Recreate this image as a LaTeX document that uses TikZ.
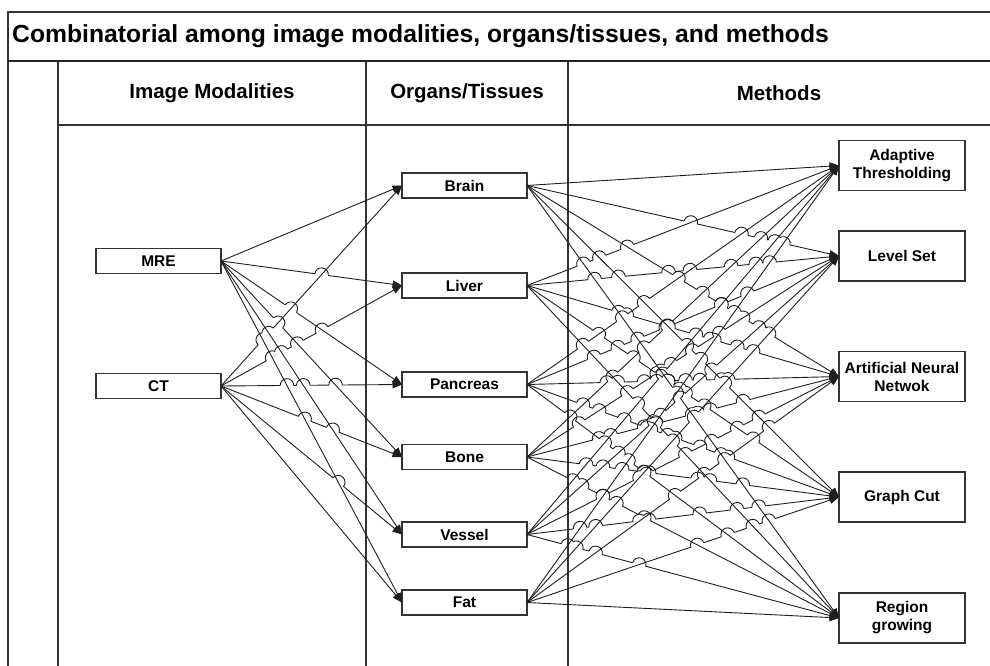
\documentclass[tikz,border=0pt]{standalone}
\usepackage{fontspec}
\setmainfont{Liberation Sans}
\usetikzlibrary{arrows.meta}

% connector data: {ax}{ay}{bx}{by}{source}{target}, coordinates in units of 100pt
\newdimen\cdx
\def\unpackedge#1{\expandafter\expandafter\expandafter\unpackedgeA\csname cedge#1\endcsname}
\def\unpackedgeA#1#2#3#4#5#6{\def\Eax{#1}\def\Eay{#2}\def\Ebx{#3}\def\Eby{#4}\def\Es{#5}\def\Et{#6}}

% line jumps (used inside scopes with the even odd rule)
\def\hopr{6.8}
\def\hopclip#1#2{\clip (-20,20) rectangle (1010,-690) (#1,#2) circle[radius=\hopr];}
\def\hopcut#1#2{\def\tmpx{#1}\ifx\tmpx\curhx\else
  \ifdim\dimexpr#1pt-\curhx pt\relax<14pt \ifdim\dimexpr\curhx pt-#1pt\relax<14pt
    \clip (-20,20) rectangle (1010,-690) (#1,#2) ++(\hth:\hopr)
      arc[start angle=\hth, end angle=\hth+180, radius=\hopr] -- cycle;
  \fi\fi\fi}
\def\hoparc#1#2{\begin{scope}[even odd rule]\def\curhx{#1}\let\hop\hopcut\hoplist
  \draw[conn] (#1,#2) ++(\hth+180:\hopr) arc[start angle=\hth+180, end angle=\hth, radius=\hopr];
  \end{scope}}

\def\edgelist{mre/brain,mre/liver,mre/pancreas,mre/bone,mre/vessel,mre/fat,
ct/brain,ct/liver,ct/pancreas,ct/bone,ct/vessel,ct/fat,
brain/adapt,brain/level,brain/ann,brain/graph,brain/region,
liver/adapt,liver/level,liver/ann,liver/graph,liver/region,
pancreas/adapt,pancreas/level,pancreas/ann,pancreas/graph,pancreas/region,
bone/adapt,bone/level,bone/ann,bone/graph,bone/region,
vessel/adapt,vessel/level,vessel/ann,vessel/graph,vessel/region,
fat/adapt,fat/level,fat/ann,fat/graph,fat/region}

\begin{document}
\begin{tikzpicture}[x=1pt,y=1pt,
  box/.style={draw=black!80, line width=1.1pt, fill=white, minimum width=125pt,
    minimum height=25pt, inner sep=0pt, outer sep=0pt, align=center,
    font=\bfseries\fontsize{15.5}{18}\selectfont},
  mbox/.style={box, minimum width=126pt, minimum height=50pt},
  conn/.style={draw=black!88, line width=0.9pt},
  tip/.style={-{Triangle[length=9.5pt,width=7.5pt]}},
  lane/.style={draw=black!80, line width=1.2pt},
  head/.style={font=\bfseries\fontsize{20.5}{24}\selectfont, inner sep=0pt}]
\useasboundingbox (0,0) rectangle (990,-666);

% swimlane frame
\draw[lane] (990,-12) -- (8,-12) -- (8,-666);
\draw[lane] (58,-61) -- (58,-666);
\draw[lane] (366,-61) -- (366,-666);
\draw[lane] (568,-61) -- (568,-666);
\draw[lane] (58,-125) -- (990,-125);
\draw[black!85, line width=2.5pt] (8,-61) -- (990,-61);

\node[anchor=west, inner sep=0pt, font=\bfseries\fontsize{24.7}{30}\selectfont] (title) at (12,-36.5)
  {Combinatorial among image modalities, organs/tissues, and methods};
\node[head] (hmod) at (212,-93) {Image Modalities};
\node[head] (horg) at (467,-93) {Organs/Tissues};
\node[head] (hmet) at (779,-93) {Methods};

% image modalities
\node[box] (mre) at (158.5,-261) {MRE};
\node[box] (ct)  at (158.5,-386) {CT};
% organs / tissues
\node[box] (brain)    at (464.5,-185.5) {Brain};
\node[box] (liver)    at (464.5,-285.5) {Liver};
\node[box] (pancreas) at (464.5,-384.5) {Pancreas};
\node[box] (bone)     at (464.5,-457)   {Bone};
\node[box] (vessel)   at (464.5,-534.5) {Vessel};
\node[box] (fat)      at (464.5,-602.5) {Fat};
% methods
\node[mbox] (adapt)  at (902,-165.5) {Adaptive\\Thresholding};
\node[mbox] (level)  at (902,-256)   {Level Set};
\node[mbox] (ann)    at (902,-376.5) {Artificial Neural\\Netwok};
\node[mbox] (graph)  at (902,-497)   {Graph Cut};
\node[mbox] (region) at (902,-618)   {Region\\growing};

% store connector end points
\foreach [count=\k] \src/\tgt in \edgelist {
  \pgfextractx{\cdx}{\pgfpointanchor{\src}{east}}\pgfmathsetmacro\sax{\cdx/100}
  \pgfextracty{\cdx}{\pgfpointanchor{\src}{east}}\pgfmathsetmacro\say{\cdx/100}
  \pgfextractx{\cdx}{\pgfpointanchor{\tgt}{west}}\pgfmathsetmacro\sbx{\cdx/100}
  \pgfextracty{\cdx}{\pgfpointanchor{\tgt}{west}}\pgfmathsetmacro\sby{\cdx/100}
  \expandafter\xdef\csname cedge\k\endcsname{{\sax}{\say}{\sbx}{\sby}{\src}{\tgt}}
}

% connectors: the flatter line of a crossing pair jumps over the steeper one
\foreach \ci in {1,...,42} {
  \unpackedge{\ci}
  \let\Iax\Eax \let\Iay\Eay \let\Ibx\Ebx \let\Iby\Eby \let\Is\Es \let\It\Et
  \pgfmathsetmacro\Irx{\Ibx-\Iax}
  \pgfmathsetmacro\Iry{\Iby-\Iay}
  \pgfmathsetmacro\Isl{abs(\Iry/\Irx)}
  \pgfmathsetmacro\hth{atan2(\Iry,\Irx)}
  \global\let\hoplist\empty
  \foreach \cj in {1,...,42} {
    \unpackedge{\cj}
    \ifdim\Eax pt=\Iax pt
      \ifx\Es\Is\else\ifx\Et\It\else
        \pgfmathsetmacro\Jrx{\Ebx-\Eax}
        \pgfmathsetmacro\Jry{\Eby-\Eay}
        \pgfmathsetmacro\Jsl{abs(\Jry/\Jrx)}
        \pgfmathtruncatemacro\ihops{(\Isl<\Jsl) || ((\Isl==\Jsl) && (\ci>\cj))}
        \ifnum\ihops=1
          \pgfmathsetmacro\den{\Irx*\Jry-\Iry*\Jrx}
          \pgfmathtruncatemacro\nz{abs(\den)>0.0001}
          \ifnum\nz=1
            \pgfmathsetmacro\ddx{\Eax-\Iax}
            \pgfmathsetmacro\ddy{\Eay-\Iay}
            \pgfmathsetmacro\tpar{(\ddx*\Jry-\ddy*\Jrx)/\den}
            \pgfmathsetmacro\upar{(\ddx*\Iry-\ddy*\Irx)/\den}
            \pgfmathtruncatemacro\ok{(\tpar>0.01)&&(\tpar<0.99)&&(\upar>0.01)&&(\upar<0.99)}
            \ifnum\ok=1
              \pgfmathsetmacro\hx{100*(\Iax+\tpar*\Irx)}
              \pgfmathsetmacro\hy{100*(\Iay+\tpar*\Iry)}
              \xdef\hoplist{\unexpanded\expandafter{\hoplist}\noexpand\hop{\hx}{\hy}}
            \fi
          \fi
        \fi
      \fi\fi
    \fi
  }
  \begin{scope}[even odd rule]
    \let\hop\hopclip
    \hoplist
    \draw[conn, tip] (\Is.east) -- (\It.west);
  \end{scope}
  \let\hop\hoparc
  \hoplist
}
\end{tikzpicture}
\end{document}
